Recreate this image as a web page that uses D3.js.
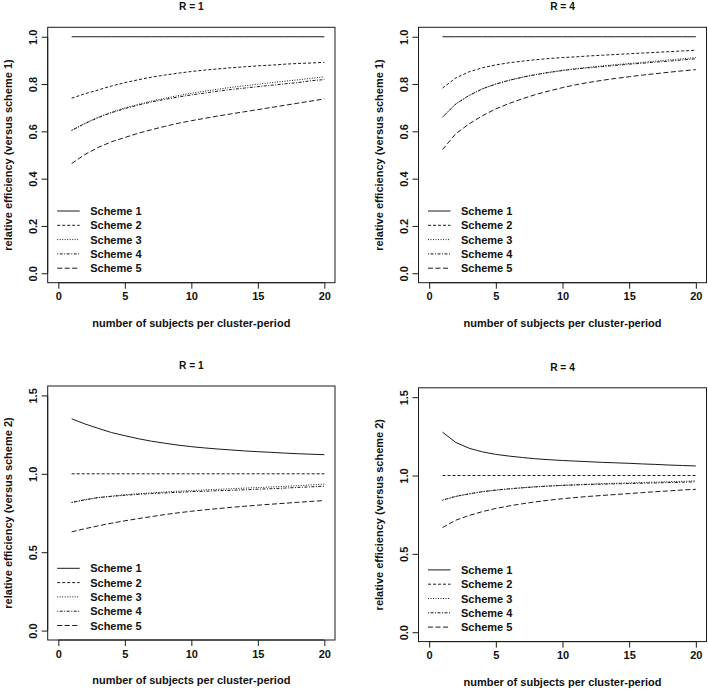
<!DOCTYPE html>
<html><head><meta charset="utf-8">
<script src="https://cdn.jsdelivr.net/npm/d3@7"></script>
<style>
body{margin:0;background:#fff;}
svg{display:block;}
text{font-family:"Liberation Sans",Arial,sans-serif;fill:#111;font-weight:bold;}
</style></head>
<body>
<svg id="chart" width="708" height="694"></svg>
<script>
// ---- data ----
const xValues = d3.range(1, 21);
const schemeNames = ["Scheme 1","Scheme 2","Scheme 3","Scheme 4","Scheme 5"];
const panelTitles = ["R = 1","R = 4","R = 1","R = 4"];
const yTitles = ["relative efficiency (versus scheme 1)","relative efficiency (versus scheme 1)",
                 "relative efficiency (versus scheme 2)","relative efficiency (versus scheme 2)"];
const xTitle = "number of subjects per cluster-period";
const xTicks = [0,5,10,15,20];
const yTicksTop = [0.0,0.2,0.4,0.6,0.8,1.0];
const yTicksBottom = [0.0,0.5,1.0,1.5];

// Panel A: R = 1, versus scheme 1
const r1v1_s1 = [1,1,1,1,1,1,1,1,1,1,1,1,1,1,1,1,1,1,1,1];
const r1v1_s2 = [0.740,0.759,0.775,0.792,0.806,0.818,0.829,0.838,0.846,0.853,0.859,0.864,0.869,0.873,0.877,0.880,0.884,0.887,0.889,0.892];
const r1v1_s3 = [0.604,0.634,0.660,0.681,0.699,0.714,0.728,0.740,0.751,0.761,0.770,0.778,0.786,0.793,0.799,0.806,0.812,0.818,0.824,0.831];
const r1v1_s4 = [0.604,0.633,0.658,0.679,0.696,0.711,0.724,0.735,0.745,0.754,0.762,0.770,0.777,0.783,0.789,0.795,0.801,0.806,0.814,0.819];
const r1v1_s5 = [0.464,0.502,0.532,0.556,0.574,0.592,0.607,0.621,0.634,0.645,0.655,0.665,0.674,0.683,0.692,0.701,0.710,0.719,0.728,0.737];
// Panel B: R = 4, versus scheme 1
const r4v1_s1 = [1,1,1,1,1,1,1,1,1,1,1,1,1,1,1,1,1,1,1,1];
const r4v1_s2 = [0.783,0.826,0.852,0.869,0.881,0.890,0.897,0.903,0.908,0.912,0.915,0.919,0.922,0.925,0.928,0.931,0.934,0.937,0.940,0.943];
const r4v1_s3 = [0.660,0.716,0.752,0.780,0.800,0.816,0.829,0.840,0.850,0.858,0.865,0.871,0.877,0.882,0.887,0.892,0.897,0.902,0.907,0.912];
const r4v1_s4 = [0.660,0.716,0.752,0.780,0.800,0.816,0.829,0.840,0.849,0.857,0.864,0.869,0.874,0.879,0.884,0.888,0.893,0.897,0.902,0.907];
const r4v1_s5 = [0.523,0.590,0.632,0.666,0.695,0.718,0.738,0.756,0.771,0.785,0.797,0.807,0.816,0.824,0.831,0.838,0.844,0.850,0.856,0.861];
// Panel C: R = 1, versus scheme 2
const r1v2_s1 = [1.351,1.318,1.290,1.263,1.243,1.224,1.208,1.195,1.183,1.173,1.165,1.158,1.152,1.146,1.141,1.137,1.132,1.128,1.125,1.122];
const r1v2_s2 = [1,1,1,1,1,1,1,1,1,1,1,1,1,1,1,1,1,1,1,1];
const r1v2_s3 = [0.817,0.835,0.849,0.858,0.866,0.873,0.879,0.884,0.889,0.893,0.897,0.901,0.905,0.909,0.912,0.916,0.920,0.924,0.929,0.934];
const r1v2_s4 = [0.817,0.834,0.848,0.856,0.863,0.869,0.874,0.878,0.882,0.886,0.889,0.892,0.895,0.898,0.902,0.905,0.909,0.913,0.917,0.921];
const r1v2_s5 = [0.630,0.650,0.668,0.685,0.700,0.714,0.727,0.740,0.751,0.761,0.770,0.778,0.786,0.793,0.800,0.806,0.812,0.818,0.824,0.829];
// Panel D: R = 4, versus scheme 2
const r4v2_s1 = [1.277,1.211,1.174,1.151,1.135,1.124,1.115,1.107,1.101,1.096,1.092,1.088,1.084,1.081,1.078,1.074,1.071,1.067,1.064,1.061];
const r4v2_s2 = [1,1,1,1,1,1,1,1,1,1,1,1,1,1,1,1,1,1,1,1];
const r4v2_s3 = [0.843,0.867,0.883,0.897,0.907,0.915,0.922,0.928,0.933,0.938,0.941,0.945,0.948,0.951,0.953,0.956,0.958,0.961,0.963,0.966];
const r4v2_s4 = [0.843,0.867,0.883,0.897,0.907,0.915,0.922,0.928,0.933,0.937,0.940,0.943,0.945,0.947,0.949,0.951,0.953,0.955,0.957,0.960];
const r4v2_s5 = [0.668,0.715,0.745,0.770,0.790,0.806,0.820,0.832,0.843,0.852,0.860,0.867,0.873,0.879,0.885,0.891,0.897,0.902,0.908,0.912];

const panelSeries = [
  [r1v1_s1,r1v1_s2,r1v1_s3,r1v1_s4,r1v1_s5],
  [r4v1_s1,r4v1_s2,r4v1_s3,r4v1_s4,r4v1_s5],
  [r1v2_s1,r1v2_s2,r1v2_s3,r1v2_s4,r1v2_s5],
  [r4v2_s1,r4v2_s2,r4v2_s3,r4v2_s4,r4v2_s5]
];

// ---- layout ----
const dashes = [null,"3,2","1,1.5","1,1.5,3,1.5","5,2.5"];
const boxes = [
  {left:47.7,right:335,top:27.3,bottom:282.7,ymax:1.04,ymin:-0.04,ticks:yTicksTop},
  {left:418.5,right:706.5,top:27.3,bottom:282.7,ymax:1.04,ymin:-0.04,ticks:yTicksTop},
  {left:47.7,right:335,top:386,bottom:640,ymax:1.56,ymin:-0.06,ticks:yTicksBottom},
  {left:418.5,right:706.5,top:387.8,bottom:641.6,ymax:1.56,ymin:-0.06,ticks:yTicksBottom}
];

const svg = d3.select("#chart");
const ink = "#1a1a1a";
const fs = 11;
const fam = "Liberation Sans, Arial, sans-serif";

boxes.forEach((b, i) => {
  const g = svg.append("g");
  const x = d3.scaleLinear().domain([-0.8, 20.8]).range([b.left, b.right]);
  const y = d3.scaleLinear().domain([b.ymin, b.ymax]).range([b.bottom, b.top]);

  // x axis
  const xa = g.append("g").attr("transform", `translate(0,${b.bottom})`)
    .call(d3.axisBottom(x).tickValues(xTicks).tickSize(6).tickPadding(4).tickFormat(d3.format("d")));
  xa.select(".domain").attr("d", `M${x(0)},0H${x(20)}`).attr("stroke", ink);
  xa.selectAll(".tick line").attr("stroke", ink);
  xa.selectAll(".tick text").attr("font-size", fs).attr("font-family", fam)
    .attr("font-weight", "bold").attr("fill", "#111");

  // y axis
  const ya = g.append("g").attr("transform", `translate(${b.left},0)`)
    .call(d3.axisLeft(y).tickValues(b.ticks).tickSize(6).tickFormat(d3.format(".1f")));
  ya.select(".domain").attr("d", `M0,${y(b.ticks[0])}V${y(b.ticks[b.ticks.length-1])}`).attr("stroke", ink);
  ya.selectAll(".tick line").attr("stroke", ink);
  ya.selectAll(".tick text")
    .attr("font-size", fs).attr("font-family", fam).attr("font-weight", "bold").attr("fill", "#111")
    .attr("x", null).attr("dy", null)
    .attr("transform", "translate(-11,0) rotate(-90)")
    .attr("text-anchor", "middle");

  // box
  g.append("rect").attr("x", b.left).attr("y", b.top)
    .attr("width", b.right - b.left).attr("height", b.bottom - b.top)
    .attr("fill", "none").attr("stroke", ink).attr("stroke-width", 1);

  // lines
  const line = d3.line().x((d, k) => x(xValues[k])).y(d => y(d));
  panelSeries[i].forEach((vals, s) => {
    g.append("path").datum(vals).attr("d", line)
      .attr("fill", "none").attr("stroke", ink).attr("stroke-width", 1)
      .attr("stroke-dasharray", dashes[s]);
  });

  // titles
  const cx = (b.left + b.right) / 2;
  const cy = (b.top + b.bottom) / 2;
  g.append("text").attr("x", cx).attr("y", b.top - 17).attr("text-anchor", "middle")
    .attr("font-size", 10.2).text(panelTitles[i]);
  g.append("text").attr("x", cx).attr("y", b.bottom + 44).attr("text-anchor", "middle")
    .attr("font-size", fs).text(xTitle);
  g.append("text").attr("transform", `translate(${b.left - 36},${cy}) rotate(-90)`)
    .attr("text-anchor", "middle").attr("font-size", fs).text(yTitles[i]);

  // legend
  const lg = g.append("g");
  const rowH = 14.3;
  const baseY = b.bottom - 14.5 - (schemeNames.length - 1) * rowH;
  schemeNames.forEach((name, s) => {
    const yy = baseY + s * rowH;
    lg.append("line").attr("x1", b.left + 9.5).attr("x2", b.left + 32)
      .attr("y1", yy).attr("y2", yy).attr("stroke", ink).attr("stroke-width", 1)
      .attr("stroke-dasharray", dashes[s]);
    lg.append("text").attr("x", b.left + 42.5).attr("y", yy + 4)
      .attr("font-size", fs).text(name);
  });
});
</script>
</body></html>
